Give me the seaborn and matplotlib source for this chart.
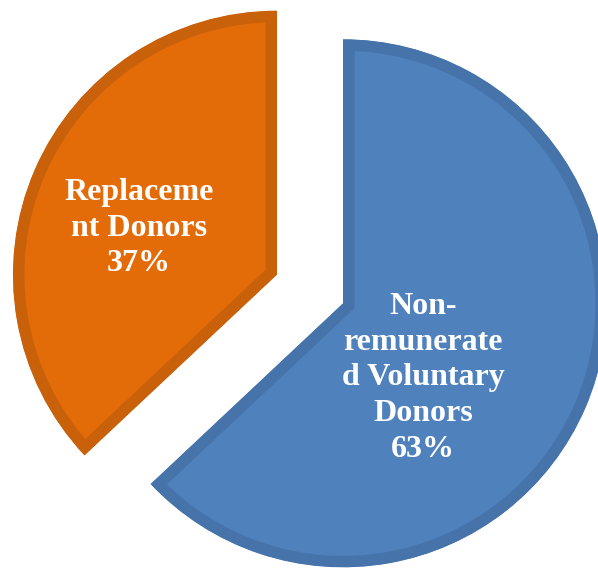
import matplotlib
matplotlib.use("Agg")
import matplotlib.pyplot as plt
import seaborn as sns

# Share of blood donations by donor type
categories = ["Non-remunerated Voluntary Donors", "Replacement Donors"]
shares = [63, 37]
# Category names as they wrap inside each slice
wrapped_names = ["Non-\nremunerate\nd Voluntary\nDonors", "Replaceme\nnt Donors"]

sns.set_theme(style="white")
plt.rcParams["font.family"] = ["Liberation Serif", "DejaVu Serif"]

fill_colors = ["#4F81BD", "#E36C09"]
band_colors = ["#4674AA", "#C9600A"]

W, H = 598, 568
fig = plt.figure(figsize=(W / 100, H / 100), dpi=100)
ax = fig.add_axes([0, 0, 1, 1])

radius = 264
wedges, _ = ax.pie(
    shares,
    colors=fill_colors,
    startangle=90,
    counterclock=False,
    radius=radius,
    center=(310, 279),
    explode=[36, 36],
    frame=True,
)
ax.set_xlim(0, W)
ax.set_ylim(0, H)
ax.set_aspect("equal")
ax.axis("off")

# Darker inner band along each slice outline: a wide stroke clipped to the slice
for w, bc in zip(wedges, band_colors):
    w.set_edgecolor(bc)
    w.set_linewidth(16.5)
    w.set_joinstyle("miter")
    w.set_clip_on(True)
    w.set_clip_path(w)

# Labels inside the slices
label_pos = [(423, 190), (139, 340)]
for name, val, (x, y) in zip(wrapped_names, shares, label_pos):
    ax.text(x, y, f"{name}\n{val}%", ha="center", va="center",
            color="white", fontsize=23, fontweight="bold", linespacing=1.3)

fig.savefig("out.png", dpi=100)
